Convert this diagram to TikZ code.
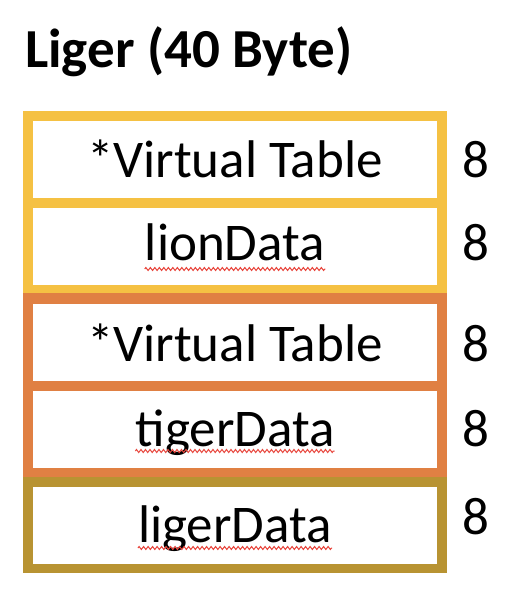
\documentclass[tikz,border=0pt]{standalone}
\usepackage{fontspec}
\setmainfont{Carlito}
\usetikzlibrary{calc,decorations.pathmorphing}
\definecolor{lionYellow}{HTML}{F5C143}
\definecolor{tigerOrange}{HTML}{E08043}
\definecolor{ligerGold}{HTML}{B89332}
\definecolor{spellRed}{HTML}{E8453C}
\begin{document}
\begin{tikzpicture}[x=1pt,y=-1pt,
  bigfont/.style={font=\fontsize{53}{60}\selectfont},
  slot/.style={fill=white, draw=none, inner sep=0, minimum width=404pt, minimum height=77pt},
  field/.style={bigfont, inner sep=0, anchor=base},
  size/.style={bigfont, inner sep=0, anchor=base},
  squiggle/.style={draw=spellRed, line width=1pt, decorate,
    decoration={zigzag, segment length=4.5pt, amplitude=1.5pt}}]
\useasboundingbox (0,0) rectangle (516,604);

% title
\node[font=\fontsize{55}{62}\selectfont\bfseries, inner sep=0, anchor=base west] (title) at (25,68) {Liger (40 Byte)};

% coloured frames of the three sub-objects
\fill[lionYellow] (23,111) rectangle (447,293);
\fill[tigerOrange] (23,293) rectangle (447,477);
\fill[ligerGold] (23,477) rectangle (447,573);

% member slots
\node[slot] (s1) at (235,159.5) {};
\node[slot] (s2) at (235,246) {};
\node[slot] (s3) at (235,342) {};
\node[slot] (s4) at (235,429.5) {};
\node[slot] (s5) at (235,525.5) {};

% member names
\node[field] (f1) at (235,177) {*Virtual Table};
\node[field] (f2) at (235,260) {lionData};
\node[field] (f3) at (235,361) {*Virtual Table};
\node[field] (f4) at (235,446) {tigerData};
\node[field] (f5) at (235,542) {ligerData};

% sizes in bytes
\node[size] (b1) at (476,177) {8};
\node[size] (b2) at (476,260) {8};
\node[size] (b3) at (476,361) {8};
\node[size] (b4) at (476,446) {8};
\node[size] (b5) at (476,534) {8};

% spell-check underlines
\draw[squiggle] ($(f2.base west)+(0,9)$) -- ($(f2.base east)+(0,9)$);
\draw[squiggle] ($(f4.base west)+(0,5)$) -- ($(f4.base east)+(0,5)$);
\draw[squiggle] ($(f5.base west)+(0,6)$) -- ($(f5.base east)+(0,6)$);
\end{tikzpicture}
\end{document}
